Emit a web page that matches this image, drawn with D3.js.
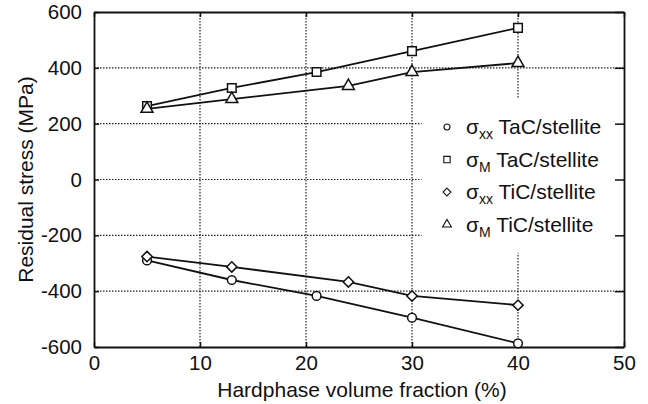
<!DOCTYPE html>
<html>
<head>
<meta charset="utf-8">
<script src="https://cdn.jsdelivr.net/npm/d3@7"></script>
<style>
  body { margin: 0; background: #fff; }
  text { font-family: "Liberation Sans", Arial, sans-serif; fill: #111; }
</style>
</head>
<body>
<div id="chart"></div>
<script>
// hardphase volume fraction (%)
var xTaC = [5, 13, 21, 30, 40];
var xTiC = [5, 13, 24, 30, 40];
// residual stress (MPa)
var sxxTaC = [-290, -360, -417, -495, -587];
var smTaC = [263, 328, 385, 460, 543];
var sxxTiC = [-276, -313, -367, -417, -450];
var smTiC = [253, 288, 335, 385, 417];

var xTicks = [0, 10, 20, 30, 40, 50];
var yTicks = [-600, -400, -200, 0, 200, 400, 600];

var seriesNames = ["TaC/stellite", "TaC/stellite", "TiC/stellite", "TiC/stellite"];
var seriesSubs = ["xx", "M", "xx", "M"];

var series = [
  { x: xTaC, y: sxxTaC, sym: d3.symbolCircle, size: 60, lsize: 28 },
  { x: xTaC, y: smTaC, sym: d3.symbolSquare, size: 74, lsize: 40 },
  { x: xTiC, y: sxxTiC, sym: "diamond", size: 70, lsize: 40 },
  { x: xTiC, y: smTiC, sym: d3.symbolTriangle, size: 62, lsize: 34 }
];

var width = 648, height = 404;
var margin = { top: 12, right: 24, bottom: 57, left: 94 };
var w = width - margin.left - margin.right;
var h = height - margin.top - margin.bottom;
var fs = 21;

var svg = d3.select("#chart").append("svg")
  .attr("width", width)
  .attr("height", height);

var g = svg.append("g")
  .attr("transform", "translate(" + margin.left + "," + margin.top + ")");

var x = d3.scaleLinear().domain([0, 50]).range([0, w]);
var y = d3.scaleLinear().domain([-600, 600]).range([h, 0]);

// dotted grid
g.selectAll(".vgrid")
  .data(xTicks.slice(1, -1))
  .enter().append("line")
  .attr("x1", function(d) { return x(d); })
  .attr("x2", function(d) { return x(d); })
  .attr("y1", 0).attr("y2", h)
  .attr("stroke", "#222").attr("stroke-width", 1.2)
  .attr("stroke-dasharray", "1.5,1.5");

g.selectAll(".hgrid")
  .data(yTicks.slice(1, -1))
  .enter().append("line")
  .attr("x1", 0).attr("x2", w)
  .attr("y1", function(d) { return y(d); })
  .attr("y2", function(d) { return y(d); })
  .attr("stroke", "#222").attr("stroke-width", 1.2)
  .attr("stroke-dasharray", "1.5,1.5");

// legend background hides the grid behind it
var legX = x(30.9), legY = y(290);
g.append("rect")
  .attr("x", legX).attr("y", legY)
  .attr("width", w - legX - 1)
  .attr("height", y(-263) - legY)
  .attr("fill", "#fff");

// axes, ticks inside
var plain = function(d) { return String(d); };
var axB = g.append("g").attr("transform", "translate(0," + h + ")")
  .call(d3.axisBottom(x).tickValues(xTicks).tickFormat(plain).tickSizeInner(-5).tickSizeOuter(0).tickPadding(8));
var axT = g.append("g")
  .call(d3.axisTop(x).tickValues(xTicks).tickSizeInner(-5).tickSizeOuter(0).tickFormat(""));
var axL = g.append("g")
  .call(d3.axisLeft(y).tickValues(yTicks).tickFormat(plain).tickSizeInner(-5).tickSizeOuter(0).tickPadding(12));
var axR = g.append("g").attr("transform", "translate(" + w + ",0)")
  .call(d3.axisRight(y).tickValues(yTicks).tickSizeInner(-9).tickSizeOuter(0).tickFormat(""));

[axB, axT, axL, axR].forEach(function(a) {
  a.attr("font-size", fs);
  a.select(".domain").attr("stroke", "#111").attr("stroke-width", 1.8);
  a.selectAll(".tick line").attr("stroke", "#111").attr("stroke-width", 1.5);
  a.selectAll("text").attr("fill", "#111")
    .style("font-size", "20.5px")
    .style("font-family", "'Liberation Sans', Arial, sans-serif");
});

// axis titles
svg.append("text")
  .attr("transform", "translate(33," + (margin.top + h / 2) + ") rotate(-90)")
  .attr("text-anchor", "middle")
  .style("font-size", fs + "px")
  .text("Residual stress (MPa)");

svg.append("text")
  .attr("x", margin.left + w / 2 + 3)
  .attr("y", 397)
  .attr("text-anchor", "middle")
  .style("font-size", fs + "px")
  .text("Hardphase volume fraction (%)");

// lines + markers
var line = d3.line();

function marker(sym, size) {
  if (sym === "diamond") {
    var r = Math.sqrt(size) * 0.62;
    return "M0," + (-r) + "L" + r + ",0L0," + r + "L" + (-r) + ",0Z";
  }
  return d3.symbol().type(sym).size(size)();
}

series.forEach(function(s) {
  var pts = s.x.map(function(v, i) { return [x(v), y(s.y[i])]; });
  g.append("path")
    .attr("d", line(pts))
    .attr("fill", "none")
    .attr("stroke", "#111")
    .attr("stroke-width", 1.8);
  g.selectAll(null)
    .data(pts)
    .enter().append("path")
    .attr("transform", function(d) { return "translate(" + d[0] + "," + d[1] + ")"; })
    .attr("d", marker(s.sym, s.size))
    .attr("fill", "#fff")
    .attr("stroke", "#111")
    .attr("stroke-width", 1.5);
});

// legend
var leg = g.append("g");
series.forEach(function(s, i) {
  var ly = y(188) + i * 32.5;
  leg.append("path")
    .attr("transform", "translate(" + (x(33.3)) + "," + ly + ")")
    .attr("d", marker(s.sym, s.lsize))
    .attr("fill", "#fff")
    .attr("stroke", "#111")
    .attr("stroke-width", 1.1);
  var t = leg.append("text")
    .attr("x", x(35.1))
    .attr("y", ly)
    .attr("dy", "0.35em")
    .style("font-size", fs + "px");
  t.append("tspan").text("\u03c3");
  t.append("tspan").style("font-size", "14px").attr("dy", 5).text(seriesSubs[i]);
  t.append("tspan").attr("dy", -5).text(" " + seriesNames[i]);
});
</script>
</body>
</html>
